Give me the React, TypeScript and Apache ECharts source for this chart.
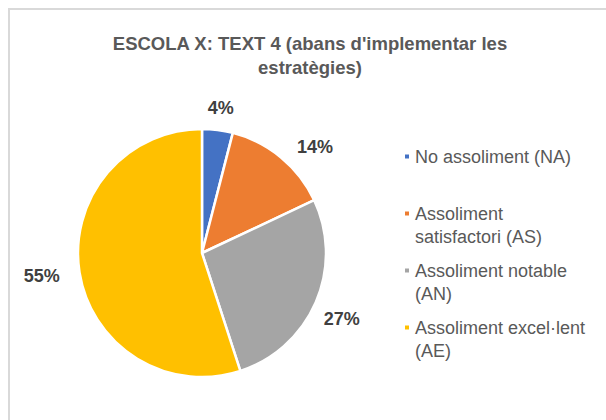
import React, { useEffect, useRef } from "react";
import * as echarts from "echarts";

const titleText = "ESCOLA X: TEXT 4 (abans d'implementar les\nestratègies)";
const categories = [
  "No assoliment (NA)",
  "Assoliment satisfactori (AS)",
  "Assoliment notable (AN)",
  "Assoliment excel·lent (AE)",
];
const legendLabels = [
  "No assoliment (NA)",
  "Assoliment\nsatisfactori (AS)",
  "Assoliment notable\n(AN)",
  "Assoliment excel·lent\n(AE)",
];
const values = [4, 14, 27, 55];
const colors = ["#4472C4", "#ED7D31", "#A5A5A5", "#FFC000"];

export default function App() {
  const ref = useRef<HTMLDivElement>(null);
  useEffect(() => {
    if (!ref.current) return;
    const chart = echarts.init(ref.current, undefined, { renderer: "svg" });
    const center = [202, 253];
    const markerTops = [153.5, 210.5, 267.5, 324.5];
    const labelOffsets = [[0, 3], [18, 9], [3, 7], [-13, 0]];
    const font = "Liberation Sans, Arial, sans-serif";
    const legends = categories.map((name, i) => {
      const twoLine = legendLabels[i].includes("\n");
      return {
        orient: "vertical",
        left: 403,
        top: markerTops[i] - (twoLine ? 31.5 : 8.5),
        padding: 0,
        itemWidth: 6,
        itemHeight: 6,
        icon: "rect",
        selectedMode: false,
        data: [name],
        formatter: () => (twoLine ? " \n" + legendLabels[i] : legendLabels[i]),
        textStyle: {
          fontFamily: font,
          fontSize: 18,
          lineHeight: 23,
          color: "#595959",
        },
      };
    });
    chart.setOption({
      animation: false,
      backgroundColor: "#ffffff",
      title: {
        text: titleText,
        left: 310,
        textAlign: "center",
        top: 31,
        padding: 0,
        textStyle: {
          fontFamily: font,
          fontSize: 18.5,
          fontWeight: "bold",
          lineHeight: 24,
          color: "#595959",
        },
      },
      legend: legends,
      series: [
        {
          type: "pie",
          center,
          radius: 124,
          startAngle: 90,
          clockwise: true,
          silent: true,
          label: { show: false },
          labelLine: { show: false },
          itemStyle: { borderColor: "#ffffff", borderWidth: 2.5 },
          data: categories.map((name, i) => ({
            name,
            value: values[i],
            itemStyle: { color: colors[i] },
          })),
        },
        {
          type: "pie",
          center,
          radius: 292,
          startAngle: 90,
          clockwise: true,
          silent: true,
          z: 10,
          itemStyle: { color: "rgba(0,0,0,0)", borderWidth: 0 },
          label: {
            show: true,
            position: "inside",
            formatter: "{c}%",
            fontFamily: font,
            fontSize: 18,
            fontWeight: "bold",
            color: "#404040",
          },
          labelLine: { show: false },
          data: categories.map((name, i) => ({
            name,
            value: values[i],
            label: { offset: labelOffsets[i] },
          })),
        },
      ],
    });
    return () => chart.dispose();
  }, []);
  return (
    <div
      style={{
        position: "fixed",
        left: 0,
        top: 0,
        width: 606,
        height: 420,
        overflow: "hidden",
        background: "#fff",
      }}
    >
      <div ref={ref} style={{ position: "absolute", left: 0, top: 0, width: 606, height: 420 }} />
      <div
        style={{
          position: "absolute",
          left: 8,
          top: 8,
          width: 800,
          height: 600,
          border: "2px solid #d9d9d9",
          pointerEvents: "none",
        }}
      />
    </div>
  );
}
